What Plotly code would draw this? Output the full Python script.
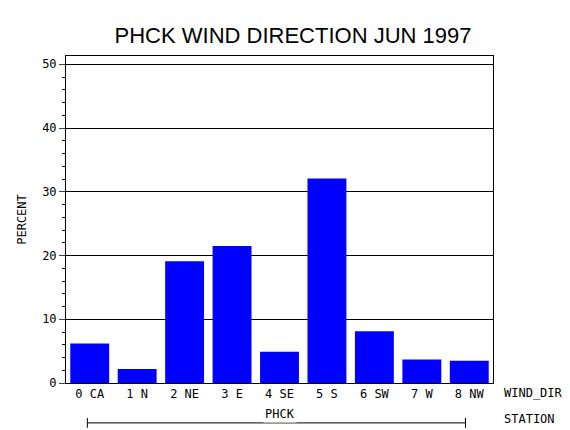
import plotly.graph_objects as go

categories = ["0 CA", "1 N", "2 NE", "3 E", "4 SE", "5 S", "6 SW", "7 W", "8 NW"]
percent = [6.2, 2.2, 19.1, 21.5, 4.9, 32.1, 8.1, 3.7, 3.5]
y_ticks = [0, 10, 20, 30, 40, 50]

font = "DejaVu Sans Mono"

fig = go.Figure(go.Bar(x=categories, y=percent, marker=dict(color="#0000ff", line=dict(width=0)),
                       width=0.82))

fig.update_layout(
    width=570, height=430,
    margin=dict(l=58, r=85, t=48, b=55, autoexpand=False),
    plot_bgcolor="white", paper_bgcolor="white",
    font=dict(family=font, size=12, color="black"),
    showlegend=False,
    title=dict(text="PHCK WIND DIRECTION JUN 1997", x=0.5, xanchor="center", y=0.955,
               font=dict(family="Liberation Sans", size=22)),
)
fig.update_xaxes(showline=True, linecolor="black", mirror=True, ticks="", tickfont=dict(size=12),
                 automargin=False)
fig.update_yaxes(range=[0, 51.3], tickvals=y_ticks, showgrid=True, gridcolor="black", gridwidth=1,
                 showline=True, linecolor="black", mirror=True, ticks="outside", ticklen=6,
                 minor=dict(dtick=2, ticks="outside", ticklen=3, tickcolor="black"),
                 title=dict(text="PERCENT", font=dict(size=12), standoff=12), zeroline=False,
                 automargin=False)

# station bracket under the categories
fig.add_shape(type="line", xref="x", yref="paper", x0=-0.05, x1=7.92, y0=-0.122, y1=-0.122,
              line=dict(color="black", width=1))
for xe in (-0.05, 7.92):
    fig.add_shape(type="line", xref="x", yref="paper", x0=xe, x1=xe, y0=-0.107, y1=-0.137,
                  line=dict(color="black", width=1))
fig.add_annotation(x=4, y=-0.122, xref="x", yref="paper", text="PHCK", showarrow=False,
                   bgcolor="white", font=dict(size=12))
fig.add_annotation(x=1.02, y=-0.058, xref="paper", yref="paper", xanchor="left", text="WIND_DIR",
                   showarrow=False, font=dict(size=12))
fig.add_annotation(x=1.02, y=-0.137, xref="paper", yref="paper", xanchor="left", text="STATION",
                   showarrow=False, font=dict(size=12))

fig.write_html("out.html")
